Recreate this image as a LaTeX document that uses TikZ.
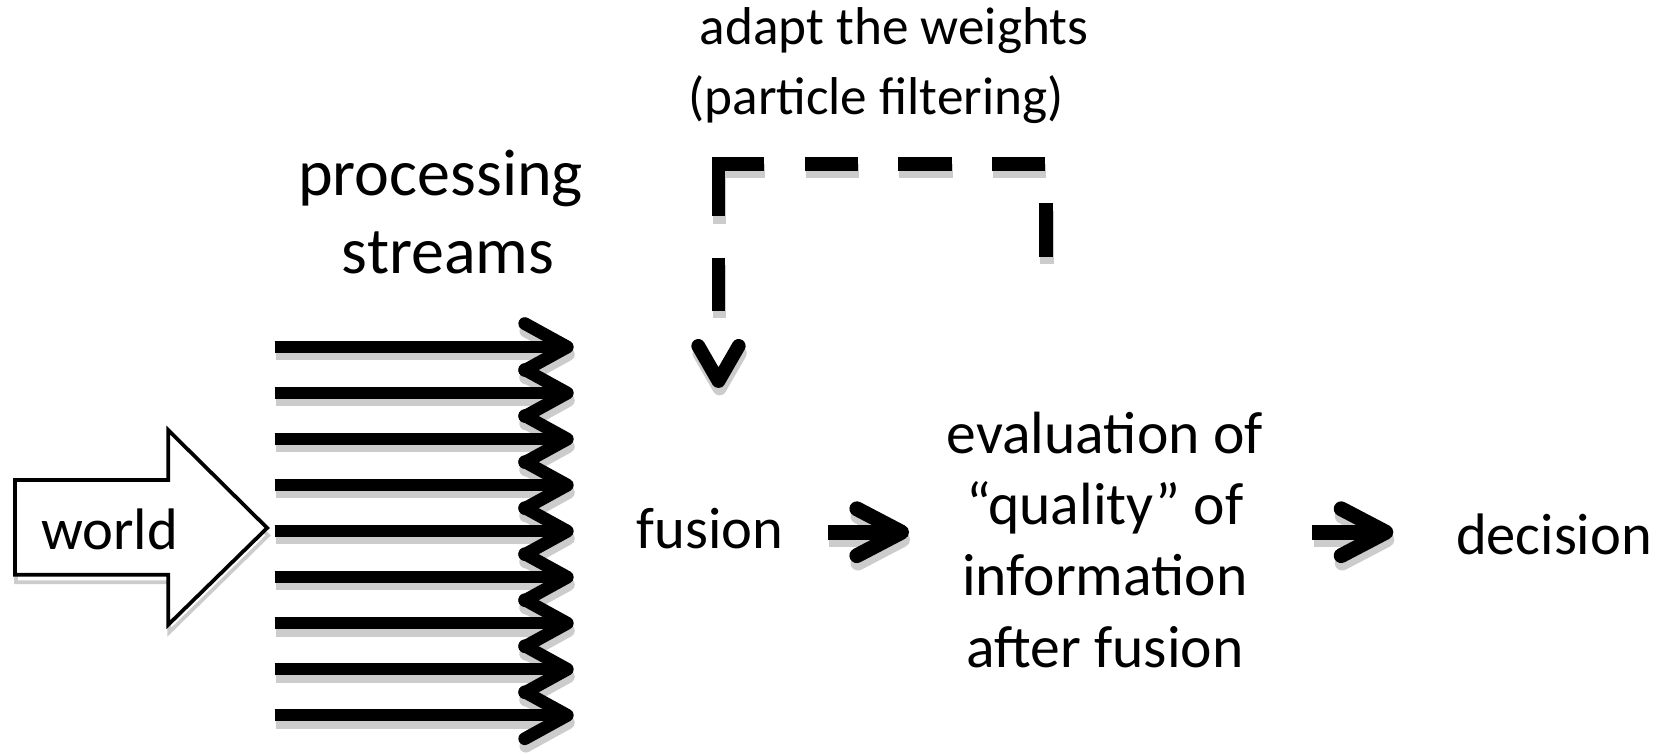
\documentclass[tikz,border=0pt]{standalone}
\usepackage{fontspec}
\setmainfont{Carlito}
\definecolor{shadowgrey}{gray}{0.80}
\tikzset{
  every node/.style={inner sep=0pt, outer sep=0pt},
  chev/.style={line width=12pt, line cap=round, line join=round},
  flow/.style={line width=11pt},
  fb/.style={line width=13pt, line join=miter,
    dash pattern=on 50pt off 38pt on 50pt off 38pt on 50pt off 38pt on 50pt off 38pt on 92pt off 39pt on 50pt off 200pt},
  txt/.style={font=\fontsize{55}{66}\selectfont, anchor=base},
  toptxt/.style={font=\fontsize{50}{60}\selectfont, anchor=base},
  bigtxt/.style={font=\fontsize{62}{72}\selectfont, anchor=base},
  dropshade/.style={transform canvas={shift={(1pt,-7pt)}}},
}
% every stroked connector, drawn once as a grey shadow and once in black
\newcommand\drawstrokes[1]{%
  \foreach \i in {0,...,8}{
    \draw[flow,draw=#1] (sa\i) -- ([xshift=-6]sb\i);
    \draw[chev,draw=#1] ([shift={(-40,-22)}]sb\i) -- (sb\i) -- ([shift={(-40,22)}]sb\i);
  }
  \draw[flow,line width=14pt,draw=#1] (f1) -- ([xshift=-8]f2);
  \draw[chev,line width=14pt,draw=#1] ([shift={(-42,-22)}]f2) -- (f2) -- ([shift={(-42,22)}]f2);
  \draw[flow,line width=14pt,draw=#1] (d1) -- ([xshift=-8]d2);
  \draw[chev,line width=14pt,draw=#1] ([shift={(-42,-22)}]d2) -- (d2) -- ([shift={(-42,22)}]d2);
  \draw[fb,draw=#1] (fbs) |- (fbc) -- (fbe);
  \draw[chev,line width=13pt,draw=#1] ([shift={(-19,-33)}]fbt) -- (fbt) -- ([shift={(19,-33)}]fbt);
}
\begin{document}
\begin{tikzpicture}[x=1pt,y=-1pt]
\useasboundingbox (0,0) rectangle (1568,708);

% labels
\node[toptxt] (adapt) at (840,42) {adapt the weights};
\node[toptxt] (pf) at (823,108) {(particle filtering)};
\node[bigtxt] (proc) at (414,184) {processing};
\node[bigtxt] (strm) at (421,257) {streams};
\node[txt] (fusion) at (667,515) {fusion};
\node[font=\fontsize{56}{67}\selectfont, align=center] (eval) at (1038,507)
  {evaluation of\\“quality” of\\information\\after fusion};
\node[txt] (dec) at (1460,521) {decision};

% world block arrow
\begin{scope}[dropshade]
  \draw[line width=3.5pt, draw=shadowgrey, line join=miter]
    (14,451) -- (158,451) -- (158,404) -- (251,496) -- (158,587)
    -- (158,540) -- (14,540) -- cycle;
\end{scope}
\draw[line width=3.5pt, fill=white, line join=miter]
  (14,451) -- (158,451) -- (158,404) -- (251,496) -- (158,587)
  -- (158,540) -- (14,540) -- cycle;
\node[txt] (world) at (103,516) {world};

% end points of the connectors
\foreach \i in {0,...,8}{
  \pgfmathsetmacro{\yy}{326+43.25*\i}
  \coordinate (sa\i) at (258,\yy);
  \coordinate (sb\i) at (533,\yy);
}
\coordinate (f1) at (778,500);
\coordinate (f2) at (847,500);
\coordinate (d1) at (1233,500);
\coordinate (d2) at (1302,500);
\coordinate (fbs) at (983,241);
\coordinate (fbc) at (675,154);
\coordinate (fbe) at (675,300);
\coordinate (fbt) at (675,358);

\begin{scope}[dropshade]
  \drawstrokes{shadowgrey}
\end{scope}
\drawstrokes{black}
\end{tikzpicture}
\end{document}
